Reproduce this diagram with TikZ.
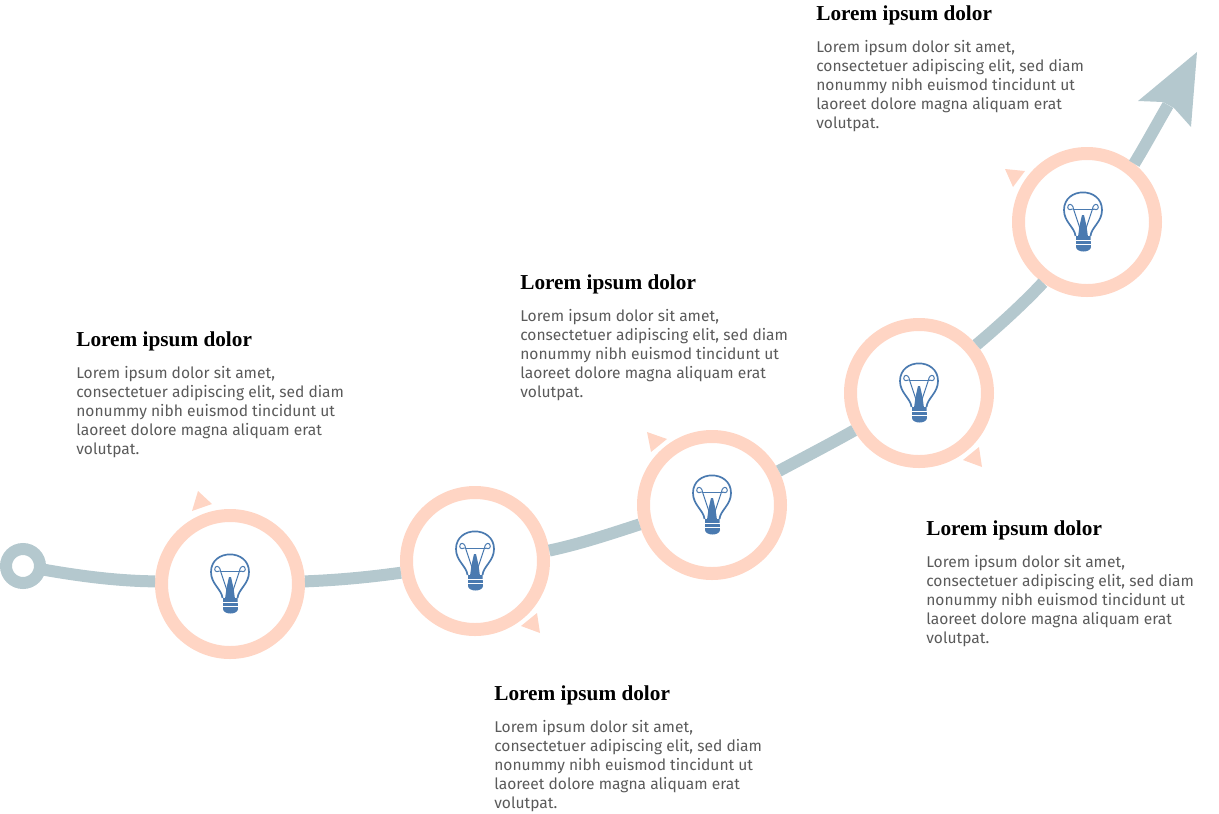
\documentclass[tikz,border=0pt]{standalone}
\usepackage{fontspec}
\setmainfont{Fira Sans}
\newfontfamily\titlefont{Liberation Serif}
\usepackage{xcolor}
\definecolor{ringcol}{HTML}{FFD5C4}
\definecolor{trackcol}{HTML}{B4C8CE}
\definecolor{bulbcol}{HTML}{4A7AB0}
\definecolor{bodycol}{HTML}{5A5A5A}
\newcommand{\loremlines}{Lorem ipsum dolor sit amet,\\consectetuer adipiscing elit, sed diam\\nonummy nibh euismod tincidunt ut\\laoreet dolore magna aliquam erat\\volutpat.}
\tikzset{
    ring/.style={shape=circle, draw=ringcol, fill=white, line width=2.6mm, minimum size=27.4mm, inner sep=0pt},
    startring/.style={shape=circle, draw=trackcol, fill=white, line width=2.4mm, minimum size=6.8mm, inner sep=0pt, outer sep=0pt},
    track/.style={draw=trackcol, line width=2.4mm},
    pointer/.style={fill=ringcol},
    heading/.style={anchor=north west, inner sep=0pt, text=black, font=\titlefont\bfseries\fontsize{12.1pt}{14pt}\selectfont},
    bodytext/.style={anchor=north west, inner sep=0pt, align=left, text=bodycol, font=\fontsize{8.86pt}{10.77pt}\selectfont},
    bulb/.pic={
        \draw[bulbcol, line width=0.34mm, line join=round] (-7.5,14) .. controls (-8.5,5) and (-19,0) .. (-19,-12) .. controls (-19,-35.5) and (19,-35.5) .. (19,-12) .. controls (19,0) and (8.5,5) .. (7.5,14);
        \draw[bulbcol, line width=0.2mm] (-10.5,-13) .. controls (-14.5,-11) and (-16.5,-14) .. (-14.5,-17) .. controls (-12.5,-19) and (-9.5,-16) .. (-9.5,-13) -- (-2.5,8);
        \draw[bulbcol, line width=0.2mm] (10.5,-13) .. controls (14.5,-11) and (16.5,-14) .. (14.5,-17) .. controls (12.5,-19) and (9.5,-16) .. (9.5,-13) -- (2.5,8);
        \draw[bulbcol, line width=0.2mm] (-10.5,-13) -- (10.5,-13);
        \fill[bulbcol] (-1,-7) -- (1,-7) -- (3.5,4) -- (5,15) -- (-5,15) -- (-3.5,4) -- cycle;
        \fill[bulbcol] (-7,14) -- (7.5,14) -- (8,25) .. controls (7.5,31) and (-6.5,31) .. (-7,25) -- cycle;
        \draw[white, line width=0.2mm] (-8.5,18.5) -- (9.5,18.5) (-8.5,22.5) -- (9.5,22.5);
    }
}
\begin{document}
\begin{tikzpicture}[x=0.2mm, y=-0.2mm]
    \useasboundingbox (0,0) rectangle (1219,813);

    \node[startring] (start) at (23,566) {};
    \node[ring] (A) at (230,584) {};
    \node[ring] (B) at (475,561) {};
    \node[ring] (C) at (712,505) {};
    \node[ring] (D) at (919,393) {};
    \node[ring] (E) at (1087,222) {};
    \coordinate (neck) at (1168,105);

    \draw[track] (start.-10) .. controls (90,578) and (125,581) .. (A.178);
    \draw[track] (A.2) .. controls (340,580) and (370,577) .. (B.189);
    \draw[track] (B.8) .. controls (580,544) and (610,534) .. (C.195.5);
    \draw[track] (C.27.5) .. controls (805,457) and (830,444) .. (D.210);
    \draw[track] (D.40.6) .. controls (1000,325) and (1025,302) .. (E.234);
    \draw[track] (E.51) .. controls (1145,146) and (1157,124) .. (neck);
    \fill[trackcol] (1197,52) -- (1138,101) -- (1163,102) -- (1174,108) -- (1191,127) -- cycle;

    \fill[pointer] (198,491) -- (212,504) -- (192,511) -- cycle;
    \fill[pointer] (537,613) -- (540,633) -- (521,626) -- cycle;
    \fill[pointer] (647,432) -- (667,439) -- (651,452) -- cycle;
    \fill[pointer] (979,447) -- (982,467) -- (963,460) -- cycle;
    \fill[pointer] (1005,169) -- (1025,171) -- (1013,187) -- cycle;

    \foreach \n in {A,B,C,D} {
        \pic at (\n) {bulb};
    }
    \pic at ([xshift=-0.8mm]E.center) {bulb};

    \node[heading] (headA) at (76,331) {Lorem ipsum dolor};
    \node[bodytext] (textA) at (76,366) {\loremlines};
    \node[heading] (headB) at (494,685) {Lorem ipsum dolor};
    \node[bodytext] (textB) at (494,720) {\loremlines};
    \node[heading] (headC) at (520,274) {Lorem ipsum dolor};
    \node[bodytext] (textC) at (520,309) {\loremlines};
    \node[heading] (headD) at (926,520) {Lorem ipsum dolor};
    \node[bodytext] (textD) at (926,555) {\loremlines};
    \node[heading] (headE) at (816,5) {Lorem ipsum dolor};
    \node[bodytext] (textE) at (816,40) {\loremlines};
\end{tikzpicture}
\end{document}
